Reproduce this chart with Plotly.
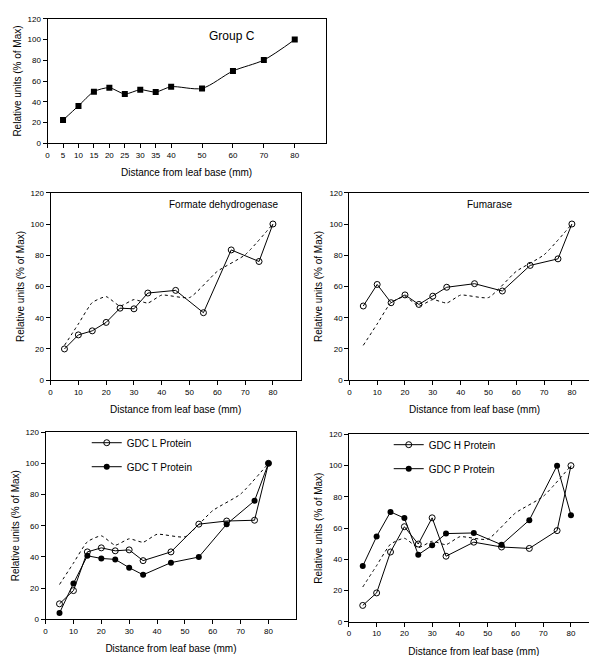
import plotly.graph_objects as go

W, H = 597, 656

# ---------------- data ----------------
grp_x = [5, 10, 15, 20, 25, 30, 35, 40, 50, 60, 70, 80]
grp_y = [22.3, 36, 49.7, 53.5, 47.5, 51.6, 49.4, 54.5, 52.9, 69.7, 80.3, 100]

enz_x = [5, 10, 15, 20, 25, 30, 35, 45, 55, 65, 75, 80]
formate_y = [20, 29, 31.6, 37, 46.1, 45.7, 55.8, 57.5, 43.2, 83.4, 76, 100]
fumarase_y = [47.5, 61.3, 49.6, 54.6, 48.5, 53.8, 59.5, 61.8, 57.1, 73.5, 77.7, 100]
gdc_l_y = [9.9, 18.4, 43.2, 45.8, 43.9, 44.5, 37.6, 43.2, 61, 63, 63.5, 100]
gdc_t_y = [4, 23, 40.7, 39, 38.4, 33.1, 28.5, 36.3, 39.9, 61, 76, 100]
gdc_h_y = [10.5, 18.5, 44.7, 60.9, 49.8, 66.6, 42, 51, 47.9, 47, 58.4, 100]
gdc_p_y = [35.7, 54.6, 70.4, 66.4, 43, 49, 56.5, 56.9, 49.4, 65.1, 100, 68.3]

top_ticks = [0, 5, 10, 15, 20, 25, 30, 35, 40, 50, 60, 70, 80]
low_ticks = [0, 10, 20, 30, 40, 50, 60, 70, 80]
y_ticks = [0, 20, 40, 60, 80, 100, 120]

FONT = "Liberation Sans, Arial, sans-serif"

# panel boxes in pixels: (left, right, top, bottom)
boxes = {
    "top": (37.7, 316.7, 7.0, 133.0),
    "ml": (40.7, 291.7, 183.3, 373.3),
    "mr": (340.5, 591.7, 183.3, 373.3),
    "bl": (35.7, 287.3, 426.0, 615.7),
    "br": (340.0, 590.7, 428.3, 618.3),
}
order = ["top", "ml", "mr", "bl", "br"]

fig = go.Figure()
layout = dict(
    width=W, height=H, margin=dict(l=0, r=0, t=0, b=0),
    paper_bgcolor="white", plot_bgcolor="white",
    font=dict(family=FONT, color="black", size=10),
    showlegend=True,
)

for i, key in enumerate(order):
    l, r, t, b = boxes[key]
    n = "" if i == 0 else str(i + 1)
    xa = dict(
        domain=[l / W, r / W], range=[0, 90], anchor="y" + n,
        tickvals=top_ticks if key == "top" else low_ticks,
        ticks="outside", ticklen=4, tickcolor="black", tickwidth=1,
        showline=True, linecolor="black", linewidth=1, mirror=True,
        showgrid=False, zeroline=False,
        tickfont=dict(size=8, family=FONT, color="black"),
        title=dict(text="Distance from leaf base (mm)",
                   font=dict(size=10, family=FONT, color="black"), standoff=10),
    )
    ya = dict(
        domain=[1 - b / H, 1 - t / H], range=[0, 120], anchor="x" + n,
        tickvals=y_ticks,
        ticks="outside", ticklen=4, tickcolor="black", tickwidth=1,
        showline=True, linecolor="black", linewidth=1, mirror=True,
        showgrid=False, zeroline=False,
        tickfont=dict(size=8, family=FONT, color="black"),
        title=dict(text="Relative units (% of Max)",
                   font=dict(size=10, family=FONT, color="black"), standoff=4),
    )
    layout["xaxis" + n] = xa
    layout["yaxis" + n] = ya

# top: Group C
fig.add_trace(go.Scatter(
    x=grp_x, y=grp_y, mode="lines+markers", xaxis="x", yaxis="y",
    line=dict(color="black", width=1, shape="spline", smoothing=0.8),
    marker=dict(symbol="square", size=6, color="black"), showlegend=False))

# dashed group-C reference curve in lower panels
for n in ["2", "3", "4", "5"]:
    fig.add_trace(go.Scatter(
        x=grp_x, y=grp_y, mode="lines", xaxis="x" + n, yaxis="y" + n,
        line=dict(color="black", width=1, dash="3px,3px", shape="spline", smoothing=0.5),
        showlegend=False, hoverinfo="skip"))

open_m = dict(symbol="circle-open", size=6, color="black", line=dict(width=1, color="black"))
fill_m = dict(symbol="circle", size=6, color="black")
ln = dict(color="black", width=1)

fig.add_trace(go.Scatter(x=enz_x, y=formate_y, mode="lines+markers", xaxis="x2", yaxis="y2",
                         line=ln, marker=open_m, showlegend=False, name="Formate dehydrogenase"))
fig.add_trace(go.Scatter(x=enz_x, y=fumarase_y, mode="lines+markers", xaxis="x3", yaxis="y3",
                         line=ln, marker=open_m, showlegend=False, name="Fumarase"))
fig.add_trace(go.Scatter(x=enz_x, y=gdc_l_y, mode="lines+markers", xaxis="x4", yaxis="y4",
                         line=ln, marker=open_m, name="GDC L Protein", legend="legend",
                         legendgroup="l"))
fig.add_trace(go.Scatter(x=enz_x, y=gdc_t_y, mode="lines+markers", xaxis="x4", yaxis="y4",
                         line=ln, marker=fill_m, name="GDC T Protein", legend="legend",
                         legendgroup="t"))
fig.add_trace(go.Scatter(x=enz_x, y=gdc_h_y, mode="lines+markers", xaxis="x5", yaxis="y5",
                         line=ln, marker=open_m, name="GDC H Protein", legend="legend2",
                         legendgroup="h"))
fig.add_trace(go.Scatter(x=enz_x, y=gdc_p_y, mode="lines+markers", xaxis="x5", yaxis="y5",
                         line=ln, marker=fill_m, name="GDC P Protein", legend="legend2",
                         legendgroup="p"))

leg_common = dict(font=dict(size=10, family=FONT, color="black"), bgcolor="rgba(0,0,0,0)",
                  itemwidth=30, tracegroupgap=5, xanchor="left", yanchor="top",
                  itemclick=False, itemdoubleclick=False)
layout["legend"] = dict(x=77 / W, y=1 - 422 / H, **leg_common)
layout["legend2"] = dict(x=380 / W, y=1 - 424 / H, **leg_common)

titles = [("Group C", 223, 24, 12), ("Formate dehydrogenase", 214, 195, 10),
          ("Fumarase", 481, 195, 10)]
layout["annotations"] = [
    dict(text=t, x=x / W, y=1 - y / H, xref="paper", yref="paper", showarrow=False,
         xanchor="center", yanchor="middle", font=dict(size=s, family=FONT, color="black"))
    for t, x, y, s in titles
]

fig.update_layout(**layout)
fig.write_html("out.html")
